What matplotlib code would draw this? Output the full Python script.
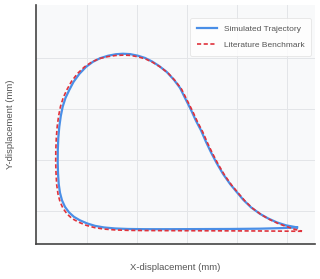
import matplotlib
matplotlib.use("Agg")
import matplotlib.pyplot as plt

plt.rcParams['font.family'] = ['Liberation Sans', 'DejaVu Sans']

# simulated trajectory (mm)
sim_x = [5.200, 4.860, 4.460, 3.860, 3.260, 2.660, 2.160, 1.820, 1.560, 1.340, 1.160, 1.000,
         0.860, 0.740, 0.640, 0.560, 0.500, 0.460, 0.434, 0.420, 0.414, 0.416, 0.426, 0.446,
         0.476, 0.514, 0.570, 0.646, 0.730, 0.846, 0.980, 1.120, 1.260, 1.420, 1.580, 1.720,
         1.860, 2.020, 2.160, 2.300, 2.440, 2.594, 2.740, 2.860, 2.980, 3.080, 3.180, 3.280,
         3.380, 3.480, 3.594, 3.720, 3.860, 4.000, 4.126, 4.280, 4.460, 4.620, 4.794, 4.980,
         5.200]
sim_y = [0.676, 0.661, 0.651, 0.645, 0.643, 0.641, 0.641, 0.645, 0.655, 0.675, 0.706, 0.755,
         0.814, 0.882, 0.971, 1.078, 1.206, 1.353, 1.529, 1.745, 1.961, 2.196, 2.431, 2.653,
         2.863, 3.045, 3.216, 3.373, 3.529, 3.686, 3.824, 3.925, 3.994, 4.043, 4.073, 4.082,
         4.075, 4.043, 4.000, 3.931, 3.843, 3.725, 3.569, 3.412, 3.176, 2.980, 2.765, 2.578,
         2.353, 2.147, 1.935, 1.725, 1.529, 1.363, 1.216, 1.069, 0.941, 0.853, 0.775, 0.716,
         0.676]

# literature benchmark (mm)
ref_x = [5.300, 4.860, 4.460, 3.860, 3.260, 2.660, 2.160, 1.820, 1.560, 1.340, 1.150, 0.980,
         0.830, 0.700, 0.600, 0.520, 0.460, 0.420, 0.394, 0.380, 0.374, 0.376, 0.386, 0.404,
         0.432, 0.470, 0.526, 0.602, 0.690, 0.810, 0.950, 1.095, 1.240, 1.410, 1.575, 1.720,
         1.865, 2.030, 2.175, 2.320, 2.465, 2.622, 2.770, 2.892, 3.012, 3.112, 3.212, 3.312,
         3.412, 3.512, 3.626, 3.752, 3.892, 4.032, 4.158, 4.312, 4.492, 4.652, 4.826, 5.012,
         5.150, 5.300]
ref_y = [0.600, 0.603, 0.606, 0.608, 0.610, 0.612, 0.614, 0.618, 0.626, 0.643, 0.672, 0.718,
         0.780, 0.850, 0.940, 1.050, 1.180, 1.330, 1.510, 1.740, 1.960, 2.196, 2.431, 2.653,
         2.863, 3.050, 3.225, 3.385, 3.540, 3.695, 3.825, 3.920, 3.985, 4.025, 4.048, 4.055,
         4.050, 4.020, 3.978, 3.910, 3.822, 3.703, 3.545, 3.385, 3.150, 2.955, 2.740, 2.553,
         2.328, 2.122, 1.910, 1.700, 1.505, 1.340, 1.195, 1.050, 0.920, 0.830, 0.750, 0.685,
         0.640, 0.600]

fig = plt.figure(figsize=(3.2, 2.79), dpi=100)
ax = fig.add_axes([0.1125, 0.1254, 0.872, 0.857])
ax.set_facecolor("#f8f9fa")

ax.plot(sim_x, sim_y, color="#4a8fe7", lw=1.6, label="Simulated Trajectory", zorder=3)
ax.plot(ref_x, ref_y, color="#e0333c", lw=1.2, ls=(0, (2.5, 1.5)), label="Literature Benchmark", zorder=4)

ax.set_xlim(-0.02, 5.56)
ax.set_ylim(0.35, 5.04)
ax.set_xticks([1, 2, 3, 4, 5])
ax.set_yticks([1, 2, 3, 4])
ax.tick_params(length=0, labelbottom=False, labelleft=False)
ax.grid(color="#e3e5e8", lw=0.7)
ax.set_axisbelow(True)

for s in ["top", "right"]:
    ax.spines[s].set_visible(False)
for s in ["left", "bottom"]:
    ax.spines[s].set_color("#444444")
    ax.spines[s].set_linewidth(1.2)

ax.set_xlabel("X-displacement (mm)", fontsize=6.8, color="#555555", labelpad=14)
ax.set_ylabel("Y-displacement (mm)", fontsize=6.8, color="#555555", labelpad=15)

leg = ax.legend(loc="upper right", fontsize=6, frameon=True, handlelength=2.4,
                borderpad=0.8, labelspacing=1.05, bbox_to_anchor=(1.0, 0.962))
leg.get_frame().set_edgecolor("#e0e0e0")
leg.get_frame().set_facecolor("white")
leg.get_frame().set_linewidth(0.6)
for t in leg.get_texts():
    t.set_color("#555555")

fig.savefig("out.png", dpi=100)
